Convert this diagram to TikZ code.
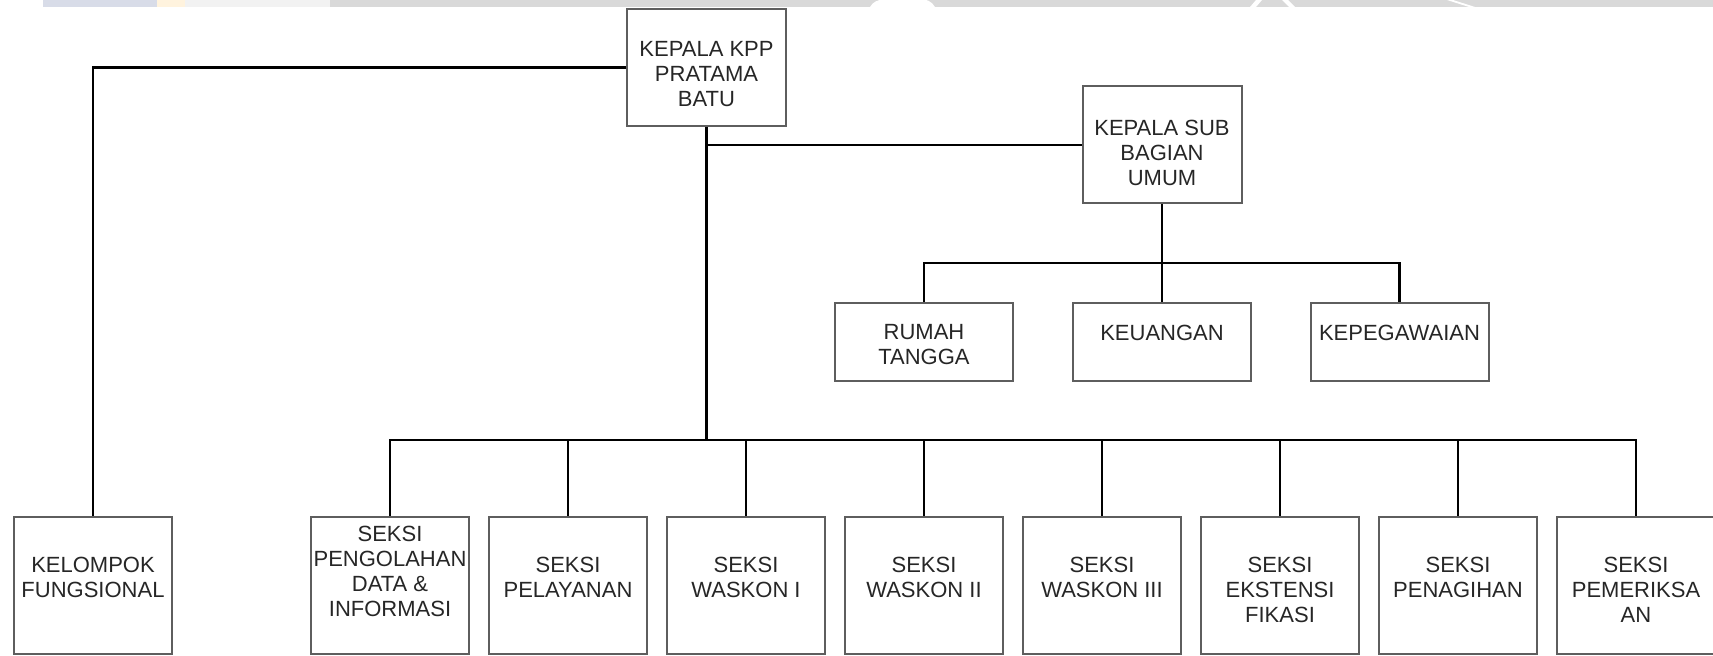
\documentclass[tikz,border=0pt]{standalone}
\usepackage{fontspec}
\setmainfont{Liberation Sans}
\usepackage{xcolor}
\usetikzlibrary{calc}
\definecolor{boxgray}{HTML}{5E5E5E}
\definecolor{bandgray}{HTML}{D9D9D9}
\definecolor{bandblue}{HTML}{D8DCE8}
\definecolor{bandcream}{HTML}{FFF3DE}
\tikzset{
  box/.style={draw=boxgray,line width=1pt,inner sep=0pt},
  topbox/.style={box,minimum width=79.5pt,minimum height=58.5pt},
  subbox/.style={box,minimum width=89pt,minimum height=39pt},
  seksibox/.style={box,minimum width=79pt,minimum height=68.5pt},
  txt/.style={align=center,inner sep=0pt,text=black!85,font=\fontsize{11}{12.5}\selectfont},
  link/.style={line width=1.3pt}
}

\begin{document}
\begin{tikzpicture}[x=0.5pt,y=-0.5pt]
  \useasboundingbox (0,0) rectangle (1713,656);
  % band at the top
  \fill[bandblue] (43,0) rectangle (157,7);
  \fill[bandcream] (157,0) rectangle (185,7);
  \fill[black!5] (185,0) rectangle (330,7);
  \fill[bandgray] (330,0) rectangle (1713,7);
  \fill[white] (870,7) to[out=60,in=180] (900,0) to[out=0,in=120] (935,7) -- cycle;
  \fill[white] (1250,7) -- (1256,0) -- (1262,0) -- (1256,7) -- cycle;
  \fill[white] (1282,0) -- (1288,0) -- (1295,7) -- (1289,7) -- cycle;
  \fill[white] (1447,0) -- (1453,0) -- (1475,7) -- (1469,7) -- cycle;

  % kepala
  \node[topbox](kpp) at (706.5,67.5){};
  \node[txt] at (706.5,74){KEPALA KPP\\PRATAMA\\BATU};
  \node[topbox](kasubag) at (1162,145){};
  \node[txt] at (1162,153){KEPALA SUB\\BAGIAN\\UMUM};

  % sub bagian umum
  \node[subbox](rt) at (924,342){};
  \node[txt] at (924,345){RUMAH\\TANGGA};
  \node[subbox](ku) at (1162,342){};
  \node[txt] at (1162,333){KEUANGAN};
  \node[subbox](kp) at (1399.5,342){};
  \node[txt] at (1399.5,333){KEPEGAWAIAN};

  % seksi
  \node[seksibox](kel) at (93,585.5){};
  \node[txt] at (93,577){KELOMPOK\\FUNGSIONAL};
  \node[seksibox](pdi) at (390,585.5){};
  \node[txt] at (390,571){SEKSI\\PENGOLAHAN\\DATA \&\\INFORMASI};
  \node[seksibox](pel) at (568,585.5){};
  \node[txt] at (568,577){SEKSI\\PELAYANAN};
  \node[seksibox](wa) at (746,585.5){};
  \node[txt] at (746,577){SEKSI\\WASKON I};
  \node[seksibox](wb) at (924,585.5){};
  \node[txt] at (924,577){SEKSI\\WASKON II};
  \node[seksibox](wc) at (1102,585.5){};
  \node[txt] at (1102,577){SEKSI\\WASKON III};
  \node[seksibox](eks) at (1280,585.5){};
  \node[txt] at (1280,590){SEKSI\\EKSTENSI\\FIKASI};
  \node[seksibox](pen) at (1458,585.5){};
  \node[txt] at (1458,577){SEKSI\\PENAGIHAN};
  \node[seksibox](pem) at (1636,585.5){};
  \node[txt] at (1636,590){SEKSI\\PEMERIKSA\\AN};

  % garis
  \coordinate (bus) at (0,440);
  \coordinate (sub) at (0,263);
  \draw[link](kpp.west)-|(kel.north);
  \draw[link](kpp.south)|-(kasubag.west);
  \draw[link](kpp.south)--(kpp.south|-bus);
  \draw[link](pdi.north)--(pdi.north|-bus)--(pem.north|-bus)--(pem.north);
  \draw[link](pel.north)--(pel.north|-bus);
  \draw[link](wa.north)--(wa.north|-bus);
  \draw[link](wb.north)--(wb.north|-bus);
  \draw[link](wc.north)--(wc.north|-bus);
  \draw[link](eks.north)--(eks.north|-bus);
  \draw[link](pen.north)--(pen.north|-bus);
  \draw[link](kasubag.south)--(ku.north);
  \draw[link](rt.north)--(rt.north|-sub)--(kp.north|-sub)--(kp.north);
\end{tikzpicture}
\end{document}
